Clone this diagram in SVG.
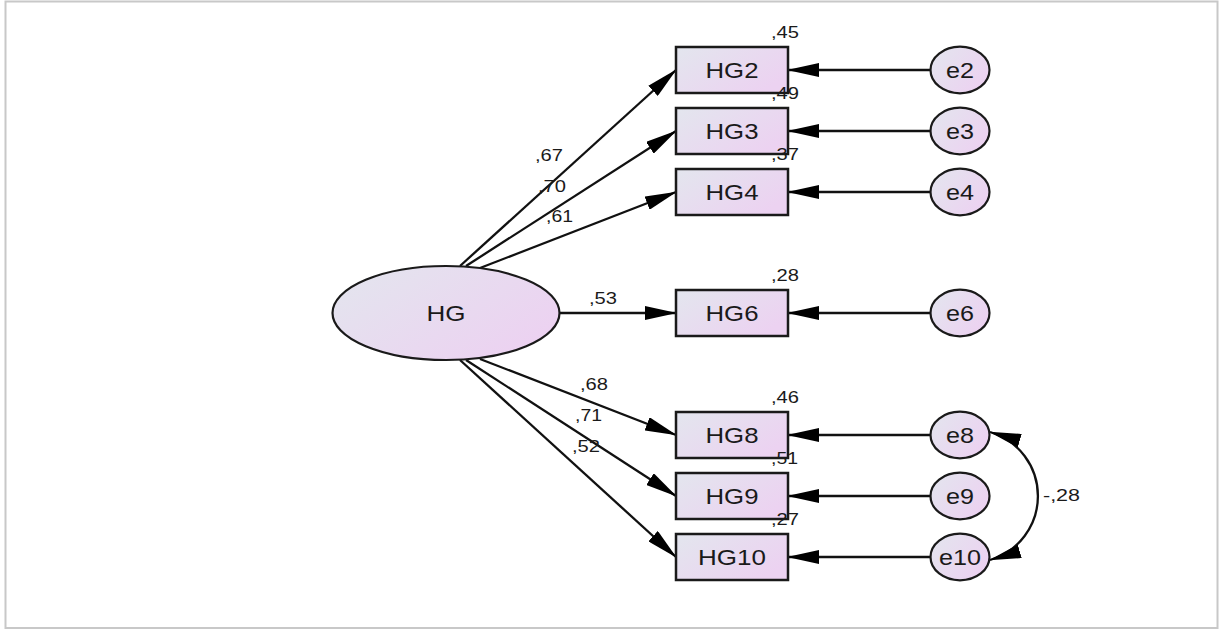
<svg xmlns="http://www.w3.org/2000/svg" width="1221" height="630" viewBox="0 0 1221 630">
<style>
.box{stroke:#1a1a1a;stroke-width:2.5;fill:url(#g)}
.ell{stroke:#1a1a1a;stroke-width:2.2;fill:url(#g)}
.lbl{font-family:"Liberation Sans",Arial,sans-serif;font-size:22px;fill:#1a1a1a;text-anchor:middle}
.val{font-family:"Liberation Sans",Arial,sans-serif;font-size:17px;fill:#1a1a1a}
.ln{stroke:#111;stroke-width:2.3;fill:none;marker-end:url(#ah)}
</style>
<defs>
<linearGradient id="g" x1="0" y1="0" x2="1" y2="0.6">
<stop offset="0" stop-color="#e3e6ee"/>
<stop offset="1" stop-color="#ecd2f1"/>
</linearGradient>
<marker id="ah" markerUnits="userSpaceOnUse" markerWidth="32" markerHeight="14" viewBox="0 0 32 14" refX="31" refY="7" orient="auto-start-reverse">
<path d="M0,0 L32,7 L0,14 z" fill="#000"/>
</marker>
</defs>
<rect x="5.5" y="1.5" width="1212" height="626.5" fill="#fff" stroke="#c8c8c8" stroke-width="2"/>
<g id="connectors">
<line class="ln" x1="460" y1="266" x2="676" y2="70"/>
<line class="ln" x1="466" y1="266" x2="676" y2="131"/>
<line class="ln" x1="480" y1="268" x2="676" y2="192"/>
<line class="ln" x1="560" y1="313" x2="676" y2="313"/>
<line class="ln" x1="480" y1="359" x2="676" y2="435"/>
<line class="ln" x1="466" y1="360" x2="676" y2="496"/>
<line class="ln" x1="460" y1="360" x2="676" y2="557"/>
<line class="ln" x1="931" y1="70" x2="788" y2="70"/>
<line class="ln" x1="931" y1="131" x2="788" y2="131"/>
<line class="ln" x1="931" y1="192" x2="788" y2="192"/>
<line class="ln" x1="931" y1="313" x2="788" y2="313"/>
<line class="ln" x1="931" y1="435" x2="788" y2="435"/>
<line class="ln" x1="931" y1="496" x2="788" y2="496"/>
<line class="ln" x1="931" y1="557" x2="788" y2="557"/>
<path class="ln" d="M990,432 A66.7,66.7 0 0 1 990,560" style="marker-start:url(#ah)"/>
<text class="val" x="535" y="161" textLength="28" lengthAdjust="spacingAndGlyphs">,67</text>
<text class="val" x="538" y="192" textLength="28" lengthAdjust="spacingAndGlyphs">,70</text>
<text class="val" x="546" y="222" textLength="27" lengthAdjust="spacingAndGlyphs">,61</text>
<text class="val" x="589" y="304" textLength="28" lengthAdjust="spacingAndGlyphs">,53</text>
<text class="val" x="580" y="390" textLength="28" lengthAdjust="spacingAndGlyphs">,68</text>
<text class="val" x="575" y="421" textLength="27" lengthAdjust="spacingAndGlyphs">,71</text>
<text class="val" x="572" y="452" textLength="28" lengthAdjust="spacingAndGlyphs">,52</text>
<text class="val" x="1043" y="501" textLength="37" lengthAdjust="spacingAndGlyphs">-,28</text>
</g>
<g id="HG">
<ellipse class="ell" cx="446" cy="313" rx="113.5" ry="47"/>
<text class="lbl" x="446" y="321" textLength="39" lengthAdjust="spacingAndGlyphs">HG</text>
</g>
<g id="HG2">
<rect class="box" x="676" y="47" width="112" height="46"/>
<text class="lbl" x="732" y="78" textLength="53" lengthAdjust="spacingAndGlyphs">HG2</text>
<text class="val" x="771" y="38" textLength="28" lengthAdjust="spacingAndGlyphs">,45</text>
</g>
<g id="HG3">
<rect class="box" x="676" y="108" width="112" height="46"/>
<text class="lbl" x="732" y="139" textLength="53" lengthAdjust="spacingAndGlyphs">HG3</text>
<text class="val" x="771" y="99" textLength="28" lengthAdjust="spacingAndGlyphs">,49</text>
</g>
<g id="HG4">
<rect class="box" x="676" y="169" width="112" height="46"/>
<text class="lbl" x="732" y="200" textLength="53" lengthAdjust="spacingAndGlyphs">HG4</text>
<text class="val" x="771" y="160" textLength="28" lengthAdjust="spacingAndGlyphs">,37</text>
</g>
<g id="HG6">
<rect class="box" x="676" y="290" width="112" height="46"/>
<text class="lbl" x="732" y="321" textLength="53" lengthAdjust="spacingAndGlyphs">HG6</text>
<text class="val" x="771" y="281" textLength="28" lengthAdjust="spacingAndGlyphs">,28</text>
</g>
<g id="HG8">
<rect class="box" x="676" y="412" width="112" height="46"/>
<text class="lbl" x="732" y="443" textLength="53" lengthAdjust="spacingAndGlyphs">HG8</text>
<text class="val" x="771" y="403" textLength="28" lengthAdjust="spacingAndGlyphs">,46</text>
</g>
<g id="HG9">
<rect class="box" x="676" y="473" width="112" height="46"/>
<text class="lbl" x="732" y="504" textLength="53" lengthAdjust="spacingAndGlyphs">HG9</text>
<text class="val" x="771" y="464" textLength="27" lengthAdjust="spacingAndGlyphs">,51</text>
</g>
<g id="HG10">
<rect class="box" x="676" y="534" width="112" height="46"/>
<text class="lbl" x="732" y="565" textLength="68" lengthAdjust="spacingAndGlyphs">HG10</text>
<text class="val" x="771" y="525" textLength="28" lengthAdjust="spacingAndGlyphs">,27</text>
</g>
<g id="e2"><ellipse class="ell" cx="960" cy="70" rx="29.5" ry="23.3"/><text class="lbl" x="960" y="78" textLength="28" lengthAdjust="spacingAndGlyphs">e2</text></g>
<g id="e3"><ellipse class="ell" cx="960" cy="131" rx="29.5" ry="23.3"/><text class="lbl" x="960" y="139" textLength="28" lengthAdjust="spacingAndGlyphs">e3</text></g>
<g id="e4"><ellipse class="ell" cx="960" cy="192" rx="29.5" ry="23.3"/><text class="lbl" x="960" y="200" textLength="28" lengthAdjust="spacingAndGlyphs">e4</text></g>
<g id="e6"><ellipse class="ell" cx="960" cy="313" rx="29.5" ry="23.3"/><text class="lbl" x="960" y="321" textLength="28" lengthAdjust="spacingAndGlyphs">e6</text></g>
<g id="e8"><ellipse class="ell" cx="960" cy="435" rx="29.5" ry="23.3"/><text class="lbl" x="960" y="443" textLength="28" lengthAdjust="spacingAndGlyphs">e8</text></g>
<g id="e9"><ellipse class="ell" cx="960" cy="496" rx="29.5" ry="23.3"/><text class="lbl" x="960" y="504" textLength="28" lengthAdjust="spacingAndGlyphs">e9</text></g>
<g id="e10"><ellipse class="ell" cx="960" cy="557" rx="29.5" ry="23.3"/><text class="lbl" x="960" y="565" textLength="42" lengthAdjust="spacingAndGlyphs">e10</text></g>
</svg>
